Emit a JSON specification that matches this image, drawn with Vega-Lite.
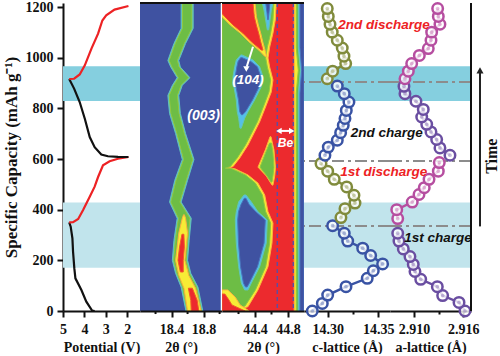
{"$schema":"https://vega.github.io/schema/vega-lite/v6.json","padding":{"left":2,"top":-2,"right":0,"bottom":0},"background":"white","spacing":0,"bounds":"flush",
"resolve":{"scale":{"color":"independent","fill":"independent","stroke":"independent"}},
"config":{"view":{"stroke":null},"concat":{"spacing":0},"axis":{"grid":false,"domainWidth":2,"domainColor":"#111","tickColor":"#111","tickWidth":2,"labelFont":"Liberation Serif","labelFontWeight":"bold","labelFontSize":14,"labelColor":"#111","titleFont":"Liberation Serif","titleFontWeight":"bold","titleFontSize":14,"titleColor":"#111","labelFlush":false,"labelOverlap":false,"labelBound":false,"labelPadding":5,"titlePadding":4}},
"datasets":{
"bands":[{"from":829,"to":966,"kind":"charged"},{"from":171,"to":428,"kind":"first"}],
"refs":[{"capacity":904},{"capacity":592},{"capacity":336}],
"potential":[
{"s":"c1","v":3.52,"capacity":0},{"s":"c1","v":3.64,"capacity":2},{"s":"c1","v":3.91,"capacity":37},{"s":"c1","v":4.14,"capacity":83},{"s":"c1","v":4.42,"capacity":129},{"s":"c1","v":4.47,"capacity":168},{"s":"c1","v":4.53,"capacity":234},{"s":"c1","v":4.56,"capacity":287},{"s":"c1","v":4.64,"capacity":333},{"s":"c1","v":4.71,"capacity":350},
{"s":"d1","v":4.71,"capacity":350},{"s":"d1","v":4.53,"capacity":351},{"s":"d1","v":4.29,"capacity":363},{"s":"d1","v":4.06,"capacity":399},{"s":"d1","v":3.75,"capacity":451},{"s":"d1","v":3.52,"capacity":491},{"s":"d1","v":3.36,"capacity":529},{"s":"d1","v":3.13,"capacity":575},{"s":"d1","v":2.82,"capacity":591},{"s":"d1","v":2.43,"capacity":601},{"s":"d1","v":1.94,"capacity":608},
{"s":"c2","v":1.94,"capacity":608},{"s":"c2","v":2.43,"capacity":608.5},{"s":"c2","v":2.9,"capacity":611},{"s":"c2","v":3.21,"capacity":618},{"s":"c2","v":3.52,"capacity":647},{"s":"c2","v":3.75,"capacity":687},{"s":"c2","v":3.98,"capacity":759},{"s":"c2","v":4.22,"capacity":825},{"s":"c2","v":4.48,"capacity":878},{"s":"c2","v":4.71,"capacity":916},
{"s":"d2","v":4.71,"capacity":916},{"s":"d2","v":4.48,"capacity":917},{"s":"d2","v":4.22,"capacity":934},{"s":"d2","v":3.98,"capacity":970},{"s":"d2","v":3.67,"capacity":1036},{"s":"d2","v":3.36,"capacity":1095},{"s":"d2","v":3.16,"capacity":1147},{"s":"d2","v":2.98,"capacity":1167},{"s":"d2","v":2.59,"capacity":1190},{"s":"d2","v":1.94,"capacity":1204}],
"heat003":[
{"r":"a","level":"low","capacity":1216,"l":18.52,"h":18.67},{"r":"a","level":"low","capacity":1116,"l":18.52,"h":18.67},{"r":"a","level":"low","capacity":1056,"l":18.43,"h":18.575},{"r":"a","level":"low","capacity":989,"l":18.354,"h":18.49},{"r":"a","level":"low","capacity":963,"l":18.39,"h":18.51},{"r":"a","level":"low","capacity":921,"l":18.47,"h":18.63},{"r":"a","level":"low","capacity":891,"l":18.41,"h":18.534},{"r":"a","level":"low","capacity":851,"l":18.354,"h":18.49},{"r":"a","level":"low","capacity":780,"l":18.375,"h":18.51},{"r":"a","level":"low","capacity":701,"l":18.45,"h":18.575},{"r":"a","level":"low","capacity":598,"l":18.534,"h":18.68},{"r":"a","level":"low","capacity":516,"l":18.44,"h":18.6},{"r":"a","level":"low","capacity":430,"l":18.375,"h":18.52},{"r":"a","level":"low","capacity":366,"l":18.47,"h":18.646},{"r":"a","level":"low","capacity":279,"l":18.43,"h":18.62},{"r":"a","level":"low","capacity":200,"l":18.41,"h":18.6},{"r":"a","level":"low","capacity":149,"l":18.45,"h":18.64},{"r":"a","level":"low","capacity":94,"l":18.52,"h":18.73},{"r":"a","level":"low","capacity":0,"l":18.58,"h":18.79},
{"r":"b","level":"mid","capacity":1216,"l":18.536,"h":18.654},{"r":"b","level":"mid","capacity":1116,"l":18.536,"h":18.654},{"r":"b","level":"mid","capacity":1056,"l":18.446,"h":18.559},{"r":"b","level":"mid","capacity":989,"l":18.37,"h":18.474},{"r":"b","level":"mid","capacity":963,"l":18.406,"h":18.494},{"r":"b","level":"mid","capacity":921,"l":18.486,"h":18.614},{"r":"b","level":"mid","capacity":891,"l":18.426,"h":18.518},{"r":"b","level":"mid","capacity":851,"l":18.37,"h":18.474},{"r":"b","level":"mid","capacity":780,"l":18.391,"h":18.494},{"r":"b","level":"mid","capacity":701,"l":18.466,"h":18.559},{"r":"b","level":"mid","capacity":598,"l":18.55,"h":18.664},{"r":"b","level":"mid","capacity":516,"l":18.456,"h":18.584},{"r":"b","level":"mid","capacity":430,"l":18.391,"h":18.504},{"r":"b","level":"mid","capacity":366,"l":18.486,"h":18.63},{"r":"b","level":"mid","capacity":279,"l":18.446,"h":18.604},{"r":"b","level":"mid","capacity":200,"l":18.426,"h":18.584},{"r":"b","level":"mid","capacity":149,"l":18.466,"h":18.624},{"r":"b","level":"mid","capacity":94,"l":18.536,"h":18.714},{"r":"b","level":"mid","capacity":0,"l":18.596,"h":18.774},
{"r":"c","level":"high","capacity":380,"l":18.55,"h":18.56},{"r":"c","level":"high","capacity":366,"l":18.534,"h":18.575},{"r":"c","level":"high","capacity":307,"l":18.49,"h":18.6},{"r":"c","level":"high","capacity":200,"l":18.45,"h":18.566},{"r":"c","level":"high","capacity":141,"l":18.49,"h":18.615},{"r":"c","level":"high","capacity":90,"l":18.555,"h":18.7},{"r":"c","level":"high","capacity":0,"l":18.6,"h":18.77},
{"r":"d","level":"peak","capacity":303,"l":18.53,"h":18.554},{"r":"d","level":"peak","capacity":253,"l":18.5,"h":18.56},{"r":"d","level":"peak","capacity":200,"l":18.48,"h":18.546},{"r":"d","level":"peak","capacity":154,"l":18.51,"h":18.546},
{"r":"e","level":"peak","capacity":90,"l":18.61,"h":18.66},{"r":"e","level":"peak","capacity":42,"l":18.64,"h":18.72},{"r":"e","level":"peak","capacity":0,"l":18.646,"h":18.74}],
"heat104":[
{"r":"y1","level":"high","capacity":1216,"l":44,"h":44.658},{"r":"y1","level":"high","capacity":1149,"l":44,"h":44.646},{"r":"y1","level":"high","capacity":1097,"l":44,"h":44.618},{"r":"y1","level":"high","capacity":1042,"l":44,"h":44.578},{"r":"y1","level":"high","capacity":999,"l":44,"h":44.558},{"r":"y1","level":"high","capacity":963,"l":44,"h":44.578},{"r":"y1","level":"high","capacity":912,"l":44,"h":44.618},{"r":"y1","level":"high","capacity":865,"l":44,"h":44.598},{"r":"y1","level":"high","capacity":813,"l":44,"h":44.537},{"r":"y1","level":"high","capacity":747,"l":44,"h":44.457},{"r":"y1","level":"high","capacity":655,"l":44,"h":44.315},{"r":"y1","level":"high","capacity":604,"l":44,"h":44.215},{"r":"y1","level":"high","capacity":570,"l":44,"h":44.133},{"r":"y1","level":"high","capacity":564,"l":44,"h":44.073},{"r":"y1","level":"high","capacity":562,"l":44,"h":44.154},{"r":"y1","level":"high","capacity":537,"l":44,"h":44.315},{"r":"y1","level":"high","capacity":505,"l":44,"h":44.436},{"r":"y1","level":"high","capacity":458,"l":44,"h":44.518},{"r":"y1","level":"high","capacity":392,"l":44,"h":44.558},{"r":"y1","level":"high","capacity":347,"l":44,"h":44.618},{"r":"y1","level":"high","capacity":268,"l":44,"h":44.606},{"r":"y1","level":"high","capacity":175,"l":44,"h":44.558},{"r":"y1","level":"high","capacity":83,"l":44,"h":44.436},{"r":"y1","level":"high","capacity":17,"l":44,"h":44.315},{"r":"y1","level":"high","capacity":4,"l":44,"h":44.194},
{"r":"g1","level":"mid","capacity":1216,"l":44,"h":44.63},{"r":"g1","level":"mid","capacity":1149,"l":44,"h":44.618},{"r":"g1","level":"mid","capacity":1097,"l":44,"h":44.59},{"r":"g1","level":"mid","capacity":1042,"l":44,"h":44.55},{"r":"g1","level":"mid","capacity":999,"l":44,"h":44.53},{"r":"g1","level":"mid","capacity":963,"l":44,"h":44.55},{"r":"g1","level":"mid","capacity":912,"l":44,"h":44.59},{"r":"g1","level":"mid","capacity":865,"l":44,"h":44.57},{"r":"g1","level":"mid","capacity":813,"l":44,"h":44.51},{"r":"g1","level":"mid","capacity":747,"l":44,"h":44.43},{"r":"g1","level":"mid","capacity":655,"l":44,"h":44.285},{"r":"g1","level":"mid","capacity":604,"l":44,"h":44.185},{"r":"g1","level":"mid","capacity":570,"l":44,"h":44.1},{"r":"g1","level":"mid","capacity":564,"l":44,"h":44.04},{"r":"g1","level":"mid","capacity":562,"l":44,"h":44.12},{"r":"g1","level":"mid","capacity":537,"l":44,"h":44.285},{"r":"g1","level":"mid","capacity":505,"l":44,"h":44.405},{"r":"g1","level":"mid","capacity":458,"l":44,"h":44.49},{"r":"g1","level":"mid","capacity":392,"l":44,"h":44.53},{"r":"g1","level":"mid","capacity":347,"l":44,"h":44.59},{"r":"g1","level":"mid","capacity":268,"l":44,"h":44.578},{"r":"g1","level":"mid","capacity":175,"l":44,"h":44.53},{"r":"g1","level":"mid","capacity":83,"l":44,"h":44.405},{"r":"g1","level":"mid","capacity":20,"l":44,"h":44.28},{"r":"g1","level":"mid","capacity":8,"l":44,"h":44.16},
{"r":"y2","level":"high","capacity":1216,"l":44,"h":44.4},{"r":"y2","level":"high","capacity":1175,"l":44,"h":44.413},{"r":"y2","level":"high","capacity":1162,"l":44,"h":44.417},{"r":"y2","level":"high","capacity":1129,"l":44.1,"h":44.441},{"r":"y2","level":"high","capacity":1096,"l":44.225,"h":44.47},{"r":"y2","level":"high","capacity":1063,"l":44.325,"h":44.494},{"r":"y2","level":"high","capacity":1030,"l":44.446,"h":44.522},{"r":"y2","level":"high","capacity":1005,"l":44.52,"h":44.54},
{"r":"r1","level":"peak","capacity":1216,"l":44,"h":44.376},{"r":"r1","level":"peak","capacity":1175,"l":44,"h":44.388},{"r":"r1","level":"peak","capacity":1162,"l":44.033,"h":44.392},{"r":"r1","level":"peak","capacity":1129,"l":44.133,"h":44.416},{"r":"r1","level":"peak","capacity":1096,"l":44.255,"h":44.445},{"r":"r1","level":"peak","capacity":1063,"l":44.355,"h":44.469},{"r":"r1","level":"peak","capacity":1030,"l":44.476,"h":44.497},
{"r":"c1","level":"low","capacity":1216,"l":44.489,"h":44.618},{"r":"c1","level":"low","capacity":1188,"l":44.509,"h":44.598},{"r":"c1","level":"low","capacity":1110,"l":44.549,"h":44.566},
{"r":"b1","level":"base","capacity":1216,"l":44.53,"h":44.58},{"r":"b1","level":"base","capacity":1180,"l":44.545,"h":44.57},{"r":"b1","level":"base","capacity":1150,"l":44.555,"h":44.56},
{"r":"c2","level":"low","capacity":1011,"l":44.227,"h":44.242},{"r":"c2","level":"low","capacity":991,"l":44.173,"h":44.376},{"r":"c2","level":"low","capacity":964,"l":44.154,"h":44.457},{"r":"c2","level":"low","capacity":925,"l":44.133,"h":44.497},{"r":"c2","level":"low","capacity":885,"l":44.145,"h":44.476},{"r":"c2","level":"low","capacity":833,"l":44.173,"h":44.396},{"r":"c2","level":"low","capacity":787,"l":44.185,"h":44.315},{"r":"c2","level":"low","capacity":761,"l":44.202,"h":44.275},{"r":"c2","level":"low","capacity":722,"l":44.218,"h":44.234},
{"r":"b2","level":"base","capacity":1000,"l":44.225,"h":44.245},{"r":"b2","level":"base","capacity":985,"l":44.195,"h":44.35},{"r":"b2","level":"base","capacity":964,"l":44.18,"h":44.43},{"r":"b2","level":"base","capacity":925,"l":44.16,"h":44.47},{"r":"b2","level":"base","capacity":885,"l":44.17,"h":44.45},{"r":"b2","level":"base","capacity":833,"l":44.2,"h":44.37},{"r":"b2","level":"base","capacity":787,"l":44.215,"h":44.285},{"r":"b2","level":"base","capacity":775,"l":44.235,"h":44.25},
{"r":"c3","level":"low","capacity":458,"l":44.267,"h":44.291},{"r":"c3","level":"low","capacity":431,"l":44.202,"h":44.355},{"r":"c3","level":"low","capacity":392,"l":44.173,"h":44.436},{"r":"c3","level":"low","capacity":359,"l":44.161,"h":44.549},{"r":"c3","level":"low","capacity":268,"l":44.173,"h":44.537},{"r":"c3","level":"low","capacity":175,"l":44.202,"h":44.457},{"r":"c3","level":"low","capacity":110,"l":44.234,"h":44.355},{"r":"c3","level":"low","capacity":83,"l":44.275,"h":44.315},
{"r":"b3","level":"base","capacity":445,"l":44.27,"h":44.29},{"r":"b3","level":"base","capacity":420,"l":44.23,"h":44.33},{"r":"b3","level":"base","capacity":392,"l":44.2,"h":44.41},{"r":"b3","level":"base","capacity":359,"l":44.19,"h":44.525},{"r":"b3","level":"base","capacity":268,"l":44.2,"h":44.51},{"r":"b3","level":"base","capacity":175,"l":44.225,"h":44.43},{"r":"b3","level":"base","capacity":110,"l":44.26,"h":44.33},{"r":"b3","level":"base","capacity":95,"l":44.285,"h":44.305},
{"r":"y3","level":"high","capacity":688,"l":44.582,"h":44.594},{"r":"y3","level":"high","capacity":636,"l":44.525,"h":44.63},{"r":"y3","level":"high","capacity":568,"l":44.436,"h":44.648},{"r":"y3","level":"high","capacity":533,"l":44.537,"h":44.639},{"r":"y3","level":"high","capacity":497,"l":44.606,"h":44.618},
{"r":"g3","level":"mid","capacity":663,"l":44.576,"h":44.6},{"r":"g3","level":"mid","capacity":624,"l":44.527,"h":44.618},{"r":"g3","level":"mid","capacity":568,"l":44.46,"h":44.63},{"r":"g3","level":"mid","capacity":533,"l":44.545,"h":44.618},{"r":"g3","level":"mid","capacity":509,"l":44.594,"h":44.606},
{"r":"y4","level":"high","capacity":83,"l":44,"h":44.07},{"r":"y4","level":"high","capacity":55,"l":44,"h":44.16},{"r":"y4","level":"high","capacity":24,"l":44,"h":44.22},{"r":"y4","level":"high","capacity":0,"l":44,"h":44.33},
{"r":"r4","level":"peak","capacity":67,"l":44,"h":44.035},{"r":"r4","level":"peak","capacity":43,"l":44,"h":44.085},{"r":"r4","level":"peak","capacity":24,"l":44,"h":44.12},{"r":"r4","level":"peak","capacity":0,"l":44,"h":44.28},
{"r":"y5","level":"high","capacity":1216,"l":44.875,"h":44.994},{"r":"y5","level":"high","capacity":0,"l":44.875,"h":44.994},
{"r":"g5","level":"mid","capacity":1216,"l":44.9,"h":44.994},{"r":"g5","level":"mid","capacity":1040,"l":44.9,"h":44.994},{"r":"g5","level":"mid","capacity":950,"l":44.925,"h":44.994},{"r":"g5","level":"mid","capacity":860,"l":44.9,"h":44.994},{"r":"g5","level":"mid","capacity":0,"l":44.9,"h":44.994},
{"r":"c5","level":"low","capacity":1216,"l":44.925,"h":44.994},{"r":"c5","level":"low","capacity":1040,"l":44.925,"h":44.994},{"r":"c5","level":"low","capacity":950,"l":44.95,"h":44.994},{"r":"c5","level":"low","capacity":860,"l":44.925,"h":44.994},{"r":"c5","level":"low","capacity":0,"l":44.925,"h":44.994},
{"r":"b5","level":"base","capacity":1216,"l":44.945,"h":44.994},{"r":"b5","level":"base","capacity":1040,"l":44.945,"h":44.994},{"r":"b5","level":"base","capacity":950,"l":44.965,"h":44.994},{"r":"b5","level":"base","capacity":860,"l":44.945,"h":44.994},{"r":"b5","level":"base","capacity":0,"l":44.945,"h":44.994}],
"cLattice":[
{"s":"charge1","c":14.2848,"capacity":0},{"s":"charge1","c":14.2947,"capacity":30},{"s":"charge1","c":14.3,"capacity":63},{"s":"charge1","c":14.3181,"capacity":96},{"s":"charge1","c":14.3391,"capacity":129},{"s":"charge1","c":14.3451,"capacity":159},{"s":"charge1","c":14.3543,"capacity":186},{"s":"charge1","c":14.3425,"capacity":219},{"s":"charge1","c":14.3346,"capacity":248},{"s":"charge1","c":14.3198,"capacity":276},{"s":"charge1","c":14.3164,"capacity":307},{"s":"charge1","c":14.3049,"capacity":337},
{"s":"discharge1","c":14.3131,"capacity":369},{"s":"discharge1","c":14.3171,"capacity":404},{"s":"discharge1","c":14.327,"capacity":426},{"s":"discharge1","c":14.326,"capacity":457},{"s":"discharge1","c":14.3188,"capacity":490},{"s":"discharge1","c":14.3065,"capacity":520},{"s":"discharge1","c":14.3,"capacity":552},{"s":"discharge1","c":14.2934,"capacity":582},
{"s":"charge2","c":14.2973,"capacity":615},{"s":"charge2","c":14.3006,"capacity":647},{"s":"charge2","c":14.3095,"capacity":674},{"s":"charge2","c":14.3128,"capacity":704},{"s":"charge2","c":14.3154,"capacity":733},{"s":"charge2","c":14.3171,"capacity":760},{"s":"charge2","c":14.3184,"capacity":792},{"s":"charge2","c":14.321,"capacity":825},{"s":"charge2","c":14.3164,"capacity":858},{"s":"charge2","c":14.3095,"capacity":888},
{"s":"discharge2","c":14.2996,"capacity":917},{"s":"discharge2","c":14.3049,"capacity":947},{"s":"discharge2","c":14.3178,"capacity":977},{"s":"discharge2","c":14.3161,"capacity":1006},{"s":"discharge2","c":14.3144,"capacity":1038},{"s":"discharge2","c":14.3095,"capacity":1069},{"s":"discharge2","c":14.3045,"capacity":1101},{"s":"discharge2","c":14.3023,"capacity":1132},{"s":"discharge2","c":14.3006,"capacity":1163},{"s":"discharge2","c":14.2996,"capacity":1194}],
"aLattice":[
{"s":"charge1","a":2.91621,"capacity":0},{"s":"charge1","a":2.91548,"capacity":34},{"s":"charge1","a":2.91349,"capacity":61},{"s":"charge1","a":2.91284,"capacity":96},{"s":"charge1","a":2.91082,"capacity":125},{"s":"charge1","a":2.91012,"capacity":156},{"s":"charge1","a":2.90991,"capacity":184},{"s":"charge1","a":2.90951,"capacity":215},{"s":"charge1","a":2.9087,"capacity":245},{"s":"charge1","a":2.90817,"capacity":276},{"s":"charge1","a":2.90802,"capacity":307},
{"s":"discharge1","a":2.90802,"capacity":365},{"s":"discharge1","a":2.9079,"capacity":400},{"s":"discharge1","a":2.90979,"capacity":430},{"s":"discharge1","a":2.91061,"capacity":460},{"s":"discharge1","a":2.91125,"capacity":487},{"s":"discharge1","a":2.91183,"capacity":520},{"s":"discharge1","a":2.91296,"capacity":552},{"s":"discharge1","a":2.91308,"capacity":586},
{"s":"charge2","a":2.91438,"capacity":615},{"s":"charge2","a":2.91316,"capacity":644},{"s":"charge2","a":2.91276,"capacity":677},{"s":"charge2","a":2.91207,"capacity":707},{"s":"charge2","a":2.91155,"capacity":737},{"s":"charge2","a":2.91094,"capacity":766},{"s":"charge2","a":2.91113,"capacity":796},{"s":"charge2","a":2.91024,"capacity":828},{"s":"charge2","a":2.9089,"capacity":858},{"s":"charge2","a":2.90878,"capacity":887},
{"s":"discharge2","a":2.9089,"capacity":917},{"s":"discharge2","a":2.90931,"capacity":947},{"s":"discharge2","a":2.90972,"capacity":977},{"s":"discharge2","a":2.91065,"capacity":1009},{"s":"discharge2","a":2.91174,"capacity":1036},{"s":"discharge2","a":2.91207,"capacity":1069},{"s":"discharge2","a":2.91215,"capacity":1101},{"s":"discharge2","a":2.91316,"capacity":1132},{"s":"discharge2","a":2.91296,"capacity":1163},{"s":"discharge2","a":2.91288,"capacity":1194}]
},
"hconcat":[
{"width":77,"height":308,"layer":[
{"data":{"name":"bands"},"mark":{"type":"rect"},"encoding":{"y":{"field":"from","type":"quantitative","scale":{"domain":[0,1216],"nice":false},"axis":{"title":"Specific Capacity (mAh g⁻¹)","titleFontSize":17,"titlePadding":5,"labelPadding":4,"values":[0,100,200,300,400,500,600,700,800,900,1000,1100,1200],"labelExpr":"datum.value%200==0?datum.label:''","format":"d","tickSize":{"condition":{"test":"datum.value%200==0","value":6},"value":3}}},"y2":{"field":"to"},"color":{"field":"kind","type":"nominal","scale":{"domain":["charged","first","c1","d1","c2","d2"],"range":["#85cfdf","#c1e4ec","#111111","#ed2224","#111111","#ed2224"]},"legend":null}}},
{"data":{"name":"potential"},"mark":{"type":"line","strokeWidth":2.2},"encoding":{"x":{"field":"v","type":"quantitative","scale":{"domain":[5,1.4],"nice":false,"zero":false},"axis":{"title":"Potential (V)","values":[5,4.5,4,3.5,3,2.5,2,1.5],"labelExpr":"datum.value%1==0?datum.label:''","format":"d","tickSize":{"condition":{"test":"datum.value%1==0","value":6},"value":3}}},"y":{"field":"capacity","type":"quantitative"},"order":{"field":"capacity"},"color":{"field":"s","type":"nominal"}}}
]},
{"width":82,"height":308,"view":{"fill":"#3f52a1"},"layer":[
{"data":{"name":"heat003"},"mark":{"type":"area","orient":"horizontal","clip":true,"strokeWidth":1},"encoding":{"y":{"field":"capacity","type":"quantitative","scale":{"domain":[0,1216],"nice":false},"axis":null},"x":{"field":"l","type":"quantitative","scale":{"domain":[18.006,19.03],"nice":false,"zero":false},"axis":{"title":"2θ (°)","zindex":1,"values":[18.4,18.8],"format":".1f","tickSize":6}},"x2":{"field":"h"},"detail":{"field":"r"},"fill":{"field":"level","type":"nominal","scale":{"domain":["base","low","mid","high","peak"],"range":["#3f52a1","#55bfe8","#6dbd45","#f7ec35","#ec2a2e"]},"legend":null},"stroke":{"field":"level","type":"nominal","scale":{"domain":["base","low","mid","high","peak"],"range":["#4a72bc","#62c4b8","#93c83e","#fbb040","#f15a29"]},"legend":null}}},
{"data":{"values":[{"capacity":1216}]},"mark":{"type":"rule","color":"#111","strokeWidth":2},"encoding":{"y":{"field":"capacity","type":"quantitative"}}},
{"data":{"values":[{"t":19.03}]},"mark":{"type":"rule","color":"white","strokeWidth":2.5},"encoding":{"x":{"field":"t","type":"quantitative"}}},
{"data":{"values":[{"t":18.2,"c1":0,"c2":-12},{"t":18.6,"c1":0,"c2":-12},{"t":19.0,"c1":0,"c2":-12}]},"mark":{"type":"rule","color":"#111","strokeWidth":2},"encoding":{"x":{"field":"t","type":"quantitative"},"y":{"field":"c1","type":"quantitative"},"y2":{"field":"c2"}}},
{"data":{"values":[{"t":18.8,"capacity":769,"label":"(003)"}]},"mark":{"type":"text","font":"Liberation Sans","fontWeight":"bold","fontStyle":"italic","fontSize":14,"color":"white"},"encoding":{"x":{"field":"t","type":"quantitative"},"y":{"field":"capacity","type":"quantitative"},"text":{"field":"label"}}}
]},
{"width":82,"height":308,"view":{"fill":"#ec2a2e"},"layer":[
{"data":{"name":"heat104"},"mark":{"type":"area","orient":"horizontal","clip":true,"strokeWidth":1},"encoding":{"y":{"field":"capacity","type":"quantitative","scale":{"domain":[0,1216],"nice":false},"axis":null},"x":{"field":"l","type":"quantitative","scale":{"domain":[44,44.994],"nice":false,"zero":false},"axis":{"title":"2θ (°)","zindex":1,"values":[44.4,44.6,44.8],"labelExpr":"abs(datum.value-44.4)<0.01||abs(datum.value-44.8)<0.01?format(datum.value,'.1f'):''","tickSize":{"condition":{"test":"abs(datum.value-44.4)<0.01||abs(datum.value-44.8)<0.01","value":6},"value":3}}},"x2":{"field":"h"},"detail":{"field":"r"},"fill":{"field":"level","type":"nominal","scale":{"domain":["base","low","mid","high","peak"],"range":["#3f52a1","#55bfe8","#6dbd45","#f7ec35","#ec2a2e"]},"legend":null},"stroke":{"field":"level","type":"nominal","scale":{"domain":["base","low","mid","high","peak"],"range":["#4a72bc","#62c4b8","#93c83e","#fbb040","#f15a29"]},"legend":null}}},
{"data":{"values":[{"t":44.67},{"t":44.864}]},"mark":{"type":"rule","color":"#5a4fa2","strokeWidth":1.4,"strokeDash":[4,3]},"encoding":{"x":{"field":"t","type":"quantitative"}}},
{"data":{"values":[{"capacity":1216}]},"mark":{"type":"rule","color":"#111","strokeWidth":2},"encoding":{"y":{"field":"capacity","type":"quantitative"}}},
{"data":{"values":[{"t":44.2,"c1":0,"c2":-12}]},"mark":{"type":"rule","color":"#111","strokeWidth":2},"encoding":{"x":{"field":"t","type":"quantitative"},"y":{"field":"c1","type":"quantitative"},"y2":{"field":"c2"}}},
{"data":{"values":[{"t1":44.376,"t2":44.3,"c1":1043,"c2":965},{"t1":44.685,"t2":44.85,"c1":711,"c2":711}]},"mark":{"type":"rule","color":"white","strokeWidth":2},"encoding":{"x":{"field":"t1","type":"quantitative"},"x2":{"field":"t2"},"y":{"field":"c1","type":"quantitative"},"y2":{"field":"c2"}}},
{"data":{"values":[{"t":44.295,"capacity":955,"s":"triangle-down"},{"t":44.69,"capacity":711,"s":"triangle-left"},{"t":44.845,"capacity":711,"s":"triangle-right"}]},"mark":{"type":"point","filled":true,"color":"white","opacity":1,"size":40},"encoding":{"x":{"field":"t","type":"quantitative"},"y":{"field":"capacity","type":"quantitative"},"shape":{"field":"s","type":"nominal","scale":{"domain":["triangle-down","triangle-left","triangle-right"],"range":["triangle-down","triangle-left","triangle-right"]},"legend":null}}},
{"data":{"values":[{"t":44.315,"capacity":912,"label":"(104)","size":13.5},{"t":44.77,"capacity":663,"label":"Be","size":12}]},"mark":{"type":"text","font":"Liberation Sans","fontWeight":"bold","fontStyle":"italic","color":"white"},"encoding":{"x":{"field":"t","type":"quantitative"},"y":{"field":"capacity","type":"quantitative"},"text":{"field":"label"},"size":{"field":"size","type":"quantitative","scale":null}}}
]},
{"width":86,"height":308,"layer":[
{"data":{"name":"bands"},"mark":{"type":"rect"},"encoding":{"y":{"field":"from","type":"quantitative","scale":{"domain":[0,1216],"nice":false},"axis":null},"y2":{"field":"to"},"color":{"field":"kind","type":"nominal","scale":{"domain":["charged","first","charge1","discharge1","charge2","discharge2"],"range":["#85cfdf","#c1e4ec","#3953a4","#808b3c","#3953a4","#808b3c"]},"legend":null}}},
{"data":{"name":"refs"},"mark":{"type":"rule","color":"#8c8c8c","strokeWidth":2,"strokeDash":[12,4,3,4]},"encoding":{"y":{"field":"capacity","type":"quantitative"}}},
{"data":{"name":"cLattice"},"mark":{"type":"line","strokeWidth":2.5},"encoding":{"x":{"field":"c","type":"quantitative","scale":{"domain":[14.2766,14.3616],"nice":false,"zero":false},"axis":{"title":"c-lattice (Å)","values":[14.30,14.325,14.35,14.375],"labelExpr":"abs(datum.value-14.3)<0.001||abs(datum.value-14.35)<0.001?format(datum.value,'.2f'):''","tickSize":{"condition":{"test":"abs(datum.value-14.3)<0.001||abs(datum.value-14.35)<0.001","value":6},"value":3}}},"y":{"field":"capacity","type":"quantitative"},"order":{"field":"capacity"},"color":{"field":"s","type":"nominal"}}},
{"data":{"name":"cLattice"},"mark":{"type":"point","fill":"white","filled":false,"fillOpacity":0.8,"strokeWidth":2.5,"size":110,"opacity":1},"encoding":{"x":{"field":"c","type":"quantitative"},"y":{"field":"capacity","type":"quantitative"},"color":{"field":"s","type":"nominal"}}},
{"data":{"name":"cLattice"},"mark":{"type":"point","filled":true,"size":14,"opacity":0.35},"encoding":{"x":{"field":"c","type":"quantitative"},"y":{"field":"capacity","type":"quantitative"},"color":{"field":"s","type":"nominal"}}}
]},
{"width":81,"height":308,"layer":[
{"data":{"name":"bands"},"mark":{"type":"rect"},"encoding":{"y":{"field":"from","type":"quantitative","scale":{"domain":[0,1216],"nice":false},"axis":null},"y2":{"field":"to"},"color":{"field":"kind","type":"nominal","scale":{"domain":["charged","first","charge1","discharge1","charge2","discharge2","d","c"],"range":["#85cfdf","#c1e4ec","#6a4ea1","#b64ea0","#6a4ea1","#b64ea0","#ed2224","#111111"]},"legend":null}}},
{"data":{"name":"refs"},"mark":{"type":"rule","color":"#8c8c8c","strokeWidth":2,"strokeDash":[12,4,3,4]},"encoding":{"y":{"field":"capacity","type":"quantitative"}}},
{"data":{"name":"aLattice"},"mark":{"type":"line","strokeWidth":2.5},"encoding":{"x":{"field":"a","type":"quantitative","scale":{"domain":[2.90708,2.91694],"nice":false,"zero":false},"axis":{"title":"a-lattice (Å)","values":[2.91,2.913,2.916],"labelExpr":"abs(datum.value-2.91)<0.0005||abs(datum.value-2.916)<0.0005?format(datum.value,'.3f'):''","tickSize":{"condition":{"test":"abs(datum.value-2.91)<0.0005||abs(datum.value-2.916)<0.0005","value":6},"value":3}}},"y":{"field":"capacity","type":"quantitative"},"order":{"field":"capacity"},"color":{"field":"s","type":"nominal"}}},
{"data":{"name":"aLattice"},"mark":{"type":"point","fill":"white","filled":false,"fillOpacity":0.8,"strokeWidth":2.5,"size":110,"opacity":1},"encoding":{"x":{"field":"a","type":"quantitative"},"y":{"field":"capacity","type":"quantitative"},"color":{"field":"s","type":"nominal"}}},
{"data":{"name":"aLattice"},"mark":{"type":"point","filled":true,"size":14,"opacity":0.35},"encoding":{"x":{"field":"a","type":"quantitative"},"y":{"field":"capacity","type":"quantitative"},"color":{"field":"s","type":"nominal"}}},
{"data":{"values":[{"a":2.91694}]},"mark":{"type":"rule","color":"#111","strokeWidth":2},"encoding":{"x":{"field":"a","type":"quantitative"}}},
{"data":{"values":[{"a":2.90635,"capacity":1128,"label":"2nd discharge","tone":"d"},{"a":2.90668,"capacity":703,"label":"2nd charge","tone":"c"},{"a":2.90632,"capacity":549,"label":"1st discharge","tone":"d"},{"a":2.91292,"capacity":287,"label":"1st charge","tone":"c"}]},"mark":{"type":"text","font":"Liberation Sans","fontWeight":"bold","fontStyle":"italic","fontSize":13.5},"encoding":{"x":{"field":"a","type":"quantitative"},"y":{"field":"capacity","type":"quantitative"},"text":{"field":"label"},"color":{"field":"tone","type":"nominal"}}}
]},
{"width":29,"height":308,"layer":[
{"data":{"values":[{"p":0.31,"from":334,"to":945}]},"mark":{"type":"rule","color":"#222","strokeWidth":2},"encoding":{"x":{"field":"p","type":"quantitative","scale":{"domain":[0,1]},"axis":null},"y":{"field":"from","type":"quantitative","scale":{"domain":[0,1216],"nice":false},"axis":null},"y2":{"field":"to"}}},
{"data":{"values":[{"p":0.31,"capacity":950}]},"mark":{"type":"point","shape":"triangle-up","filled":true,"color":"#222","opacity":1,"size":50},"encoding":{"x":{"field":"p","type":"quantitative"},"y":{"field":"capacity","type":"quantitative"}}},
{"data":{"values":[{"p":0.72,"capacity":611,"label":"Time"}]},"mark":{"type":"text","font":"Liberation Serif","fontWeight":"bold","fontSize":16,"angle":270,"color":"#111"},"encoding":{"x":{"field":"p","type":"quantitative"},"y":{"field":"capacity","type":"quantitative"},"text":{"field":"label"}}}
]}
]}
